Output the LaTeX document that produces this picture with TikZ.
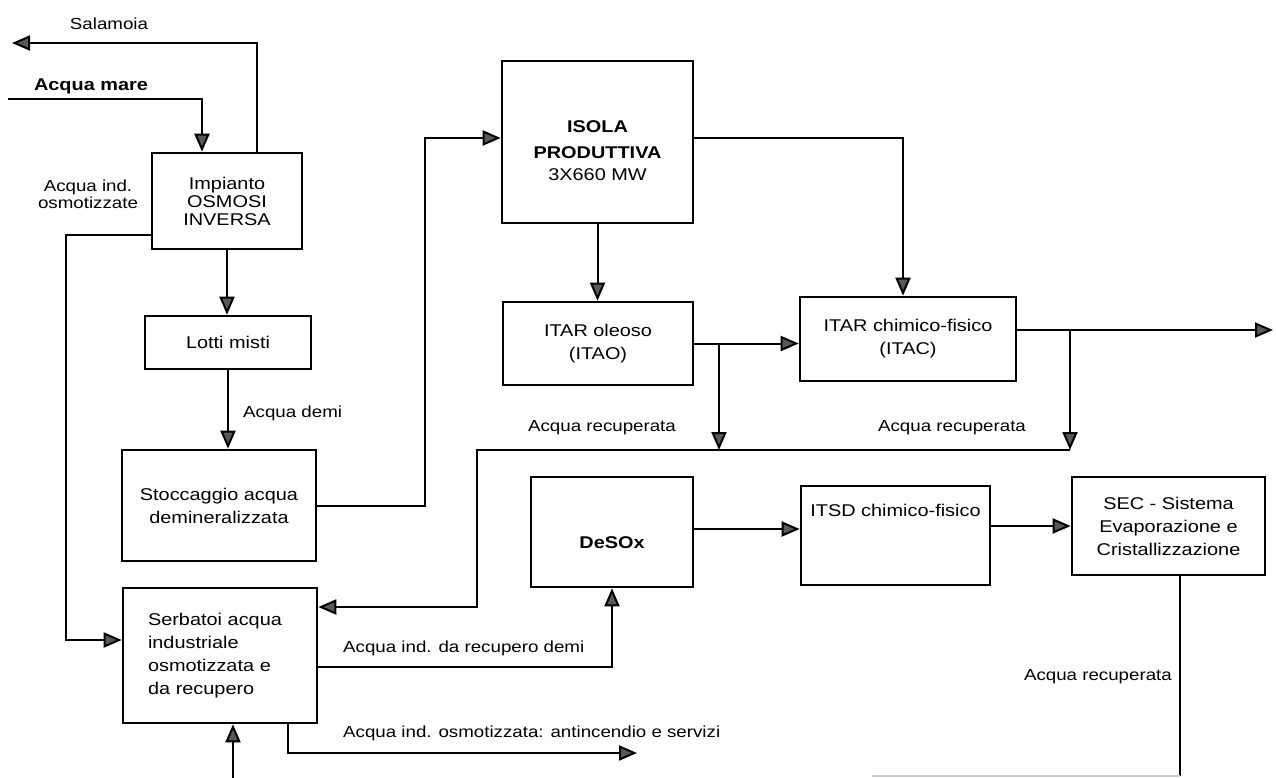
\documentclass[tikz,border=0pt]{standalone}
\usepackage{fontspec}
\setmainfont{Liberation Sans}[FakeStretch=1.17]
\usetikzlibrary{arrows.meta}

\begin{document}
\begin{tikzpicture}[x=1pt, y=-1pt,
  blk/.style={draw, line width=2.6pt, align=center, inner sep=0pt, font=\fontsize{17pt}{23pt}\selectfont},
  conn/.style={line width=2pt},
  arr/.style={conn, -{Triangle[length=18pt, width=15pt, fill=black!65]}},
  lbl/.style={font=\fontsize{16pt}{18pt}\selectfont, inner sep=0pt}]
  \useasboundingbox (0,0) rectangle (1276,778);

  % blocchi
  \node[blk, minimum width=150pt, minimum height=96pt] (osmosi) at (227,201) {Impianto\\[-5pt]OSMOSI\\[-5pt]INVERSA};
  \node[blk, minimum width=166pt, minimum height=53pt] (lotti) at (228,342.5) {Lotti misti};
  \node[blk, minimum width=194pt, minimum height=111pt] (stocc) at (219,505.5) {Stoccaggio acqua\\demineralizzata};
  \node[blk, align=left, text width=144pt, inner xsep=25pt, minimum height=135pt] (serb) at (220,655.5)
    {Serbatoi acqua\\industriale\\osmotizzata e\\da recupero};
  \node[blk, minimum width=191pt, minimum height=162pt] (isola) at (597.5,142)
    {\mbox{}\\[6pt]\textbf{ISOLA}\\[3pt]\textbf{PRODUTTIVA}\\[-1pt]3X660 MW};
  \node[blk, minimum width=190pt, minimum height=83pt] (itao) at (598,343.5) {ITAR oleoso\\(ITAO)};
  \node[blk, minimum width=216pt, minimum height=84pt] (itac) at (908,339) {ITAR chimico-fisico\\(ITAC)};
  \node[blk, minimum width=162pt, minimum height=110pt, text height=32pt, text depth=0pt] (desox) at (612,532) {\textbf{DeSOx}};
  \node[blk, minimum width=189pt, minimum height=99pt, text height=12pt, text depth=51pt] (itsd) at (895.5,535.5) {ITSD chimico-fisico};
  \node[blk, minimum width=193pt, minimum height=98pt] (sec) at (1168.5,526) {SEC - Sistema\\Evaporazione e\\Cristallizzazione};

  % estremi liberi
  \coordinate (salamoia) at (12,43);
  \coordinate (mare) at (8,99);
  \coordinate (brL) at (719,450);
  \coordinate (brR) at (1070,450);
  \coordinate (ritL) at (477,450);
  \coordinate (scarico) at (1273,330);
  \coordinate (servizi) at (637,753);
  \coordinate (angolo) at (1180,776);
  \coordinate (fondo) at (872,776);
  \coordinate (ritorno) at (233,778);

  % collegamenti
  \draw[arr] ([xshift=30pt]osmosi.north) |- (salamoia);
  \draw[arr] (mare) -| ([xshift=-25pt]osmosi.north);
  \draw[arr] ([yshift=-34pt]osmosi.west) -- ++(-85,0) |- ([yshift=15.5pt]serb.west);
  \draw[arr] (osmosi.south) -- (osmosi.south |- lotti.north);
  \draw[arr] (lotti.south) -- (lotti.south |- stocc.north);
  \draw[arr] (stocc.east) -- ++(108,0) |- ([yshift=4pt]isola.west);
  \draw[arr] ([yshift=4pt]isola.east) -| ([xshift=-5pt]itac.north);
  \draw[arr] (isola.south) -- (isola.south |- itao.north);
  \draw[arr] (itao.east) -- (itao.east -| itac.west);
  \draw[arr] (itao.east -| brL) -- (brL);
  \draw[arr] (itac.east |- scarico) -- (scarico);
  \draw[arr] (brR |- scarico) -- (brR);
  \draw[arr] (brR) -- (ritL) |- ([yshift=48.5pt]serb.east);
  \draw[arr] ([yshift=-11.5pt]serb.east) -| (desox.south);
  \draw[arr] ([xshift=68pt]serb.south) |- (servizi);
  \draw[arr] ([yshift=3pt]desox.east) -- ([yshift=3pt]desox.east -| itsd.west);
  \draw[arr] (itsd.east |- sec.west) -- (sec.west);
  \draw[conn] (sec.south -| angolo) -- (angolo);
  \draw[conn, black!20] (angolo) -- (fondo);
  \draw[arr] (ritorno) -- (ritorno |- serb.south);

  % etichette
  \node[lbl] (lsal) at (109,24) {Salamoia};
  \node[lbl, font=\fontsize{17pt}{18pt}\selectfont\bfseries] (lmare) at (91,86) {Acqua mare};
  \node[lbl, align=center, font=\fontsize{16pt}{17pt}\selectfont] (losm) at (88,194) {Acqua ind.\\osmotizzate};
  \node[lbl, anchor=west] (ldemi) at (243,413) {Acqua demi};
  \node[lbl] (lrecL) at (602,428) {Acqua recuperata};
  \node[lbl] (lrecR) at (952,428) {Acqua recuperata};
  \node[lbl, anchor=west] (lrecdemi) at (343,648) {Acqua ind. da recupero demi};
  \node[lbl, anchor=west] (lserv) at (343,733) {Acqua ind. osmotizzata: antincendio e servizi};
  \node[lbl, anchor=east] (lrecsec) at (1172,677) {Acqua recuperata};
\end{tikzpicture}
\end{document}
